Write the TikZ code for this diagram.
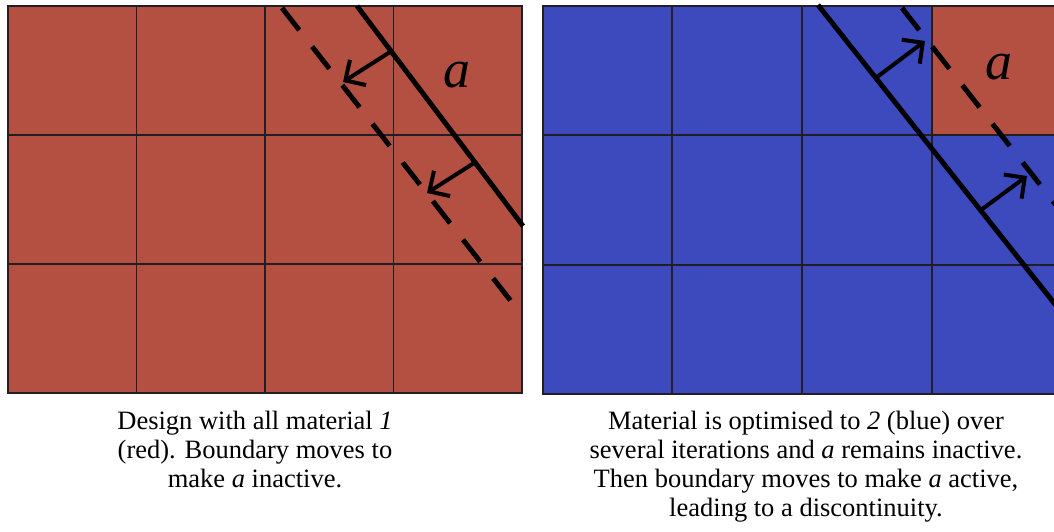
\documentclass[tikz,border=0pt]{standalone}
\usepackage{fontspec}
\setmainfont{Liberation Serif}
\usetikzlibrary{arrows.meta}
\definecolor{matone}{RGB}{180,80,65}
\definecolor{mattwo}{RGB}{60,74,190}
\definecolor{gridcol}{RGB}{35,30,35}
\def\capfont{\fontsize{26.5}{29}\selectfont}
\def\labfont{\fontsize{54}{54}\selectfont\itshape}

\begin{document}
\begin{tikzpicture}[x=1pt,y=-1pt,>={Straight Barb[length=15pt,width=30pt]},
    cell/.style={draw=gridcol,line width=1.6pt},
    bound/.style={line width=5pt},
    shifted/.style={line width=5pt,dash pattern=on 28pt off 21pt},
    move/.style={->,line width=4pt},
    caption/.style={align=center,inner sep=0pt,font=\capfont,anchor=north},
    letter/.style={font=\labfont,inner sep=0pt}]

    \useasboundingbox (0,0) rectangle (1054,531);
    \clip (0,0) rectangle (1054,531);

    \fill[matone] (8,6) rectangle (522,393);
    \draw[cell] (136.5,6) -- (136.5,393) (265,6) -- (265,393) (393.5,6) -- (393.5,393)
        (8,135) -- (522,135) (8,264) -- (522,264);
    \draw[cell] (8,6) rectangle (522,393);

    \coordinate (LS1) at (357,6);
    \coordinate (LS2) at (523,226);
    \draw[bound] (LS1) -- (LS2);

    \coordinate (LD1) at (282,8);
    \coordinate (LD2) at (514,305);
    \draw[shifted] (LD1) -- (LD2);

    \coordinate (LP1) at (390,52);
    \coordinate (LQ1) at (343,82);
    \draw[move] (LP1) -- (LQ1);

    \coordinate (LP2) at (474,163);
    \coordinate (LQ2) at (427,193);
    \draw[move] (LP2) -- (LQ2);

    \node[letter] (LA) at (457,75) {a};

    \fill[mattwo] (543,6) rectangle (1062,394);
    \fill[matone] (932,6) rectangle (1062,135);
    \draw[cell] (672,6) -- (672,394) (802,6) -- (802,394) (932,6) -- (932,394)
        (543,135) -- (1062,135) (543,265) -- (1062,265);
    \draw[cell] (543,6) rectangle (1062,394);

    \coordinate (RS1) at (818,5);
    \coordinate (RS2) at (1100,361);
    \draw[bound] (RS1) -- (RS2);

    \coordinate (RD1) at (902,8);
    \coordinate (RD2) at (1070,223);
    \draw[shifted] (RD1) -- (RD2);

    \coordinate (RP1) at (877,77);
    \coordinate (RQ1) at (925,41);
    \draw[move] (RP1) -- (RQ1);

    \coordinate (RP2) at (981,210);
    \coordinate (RQ2) at (1027,176);
    \draw[move] (RP2) -- (RQ2);

    \node[letter] (RA) at (999,67) {a};

    \node[caption] (LC) at (255,411) {Design with all material \textit{1}\\(red). Boundary moves to\\make \textit{a} inactive.};
    \node[caption] (RC) at (806,411) {Material is optimised to \textit{2} (blue) over\\several iterations and \textit{a} remains inactive.\\Then boundary moves to make \textit{a} active,\\leading to a discontinuity.};

\end{tikzpicture}
\end{document}
